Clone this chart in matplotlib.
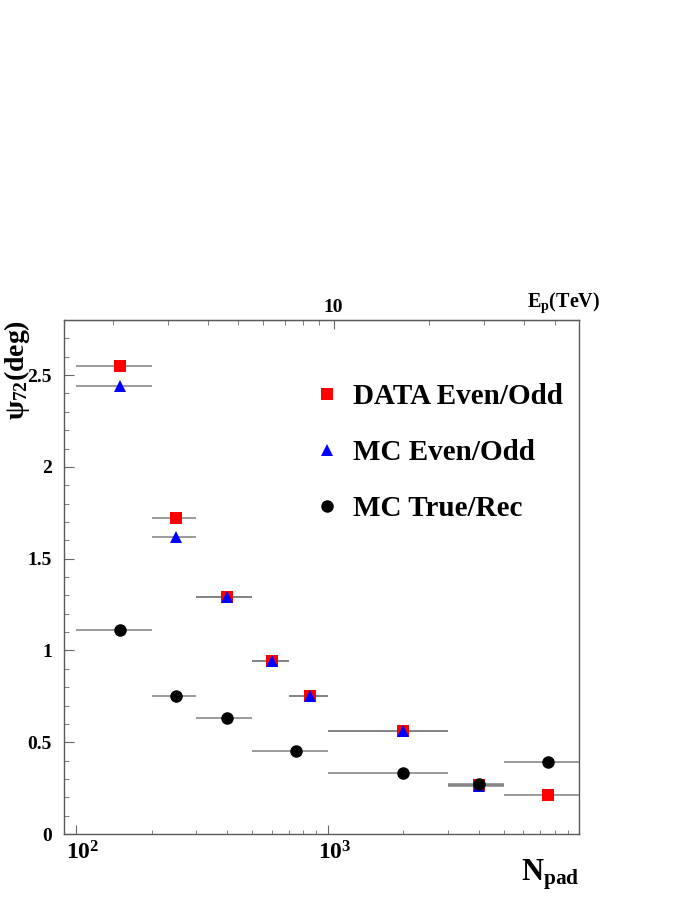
import matplotlib
matplotlib.use('Agg')
import matplotlib.pyplot as plt
import matplotlib.transforms as mtransforms
from matplotlib.lines import Line2D
from matplotlib.ticker import MultipleLocator, LogLocator, FixedLocator, FuncFormatter, NullFormatter
import numpy as np

plt.rcParams['font.family'] = 'Liberation Serif'
plt.rcParams['font.weight'] = 'bold'
plt.rcParams['mathtext.fontset'] = 'custom'
plt.rcParams['mathtext.rm'] = 'Liberation Serif:bold'
plt.rcParams['mathtext.bf'] = 'Liberation Serif:bold'
plt.rcParams['mathtext.it'] = 'Liberation Serif:bold:italic'

# bins in N_pad
bin_lo = [100, 200, 300, 500, 700, 1000, 3000, 5000]
bin_hi = [200, 300, 500, 700, 1000, 3000, 5000, 10000]
x_data = [150, 250, 400, 600, 850, 2000, 4000, 7500]
data_eo = [2.55, 1.72, 1.29, 0.94, 0.75, 0.56, 0.265, 0.21]
mc_eo = [2.44, 1.62, 1.29, 0.94, 0.75, 0.56, 0.26, None]

# MC true/rec uses different binning
true_lo = [100, 200, 300, 500, 1000, 3000, 5000]
true_hi = [200, 300, 500, 1000, 3000, 5000, 10000]
x_true = [150, 250, 400, 750, 2000, 4000, 7500]
mc_true = [1.11, 0.75, 0.63, 0.45, 0.33, 0.27, 0.39]

labels = ['DATA Even/Odd', 'MC Even/Odd', 'MC True/Rec']


def xerrs(xc, lo, hi):
    xc = np.array(xc, float)
    return [xc - np.array(lo), np.array(hi) - xc]


fig = plt.figure(figsize=(6.95, 8.99), dpi=100)
ax = fig.add_axes([0.0925, 0.0723, 0.741, 0.5717])

ax.set_xscale('log')
ax.set_xlim(90, 10000)
ax.set_ylim(0, 2.8)

ecol = '0.5'
ax.errorbar(x_data, data_eo, xerr=xerrs(x_data, bin_lo, bin_hi), fmt='s',
            color='red', ms=9, mew=0, ecolor=ecol, elinewidth=1.1, capsize=0)
m = [i for i, v in enumerate(mc_eo) if v is not None]
ax.errorbar([x_data[i] for i in m], [mc_eo[i] for i in m],
            xerr=xerrs([x_data[i] for i in m], [bin_lo[i] for i in m], [bin_hi[i] for i in m]),
            fmt='^', color='blue', ms=9, mew=0, ecolor=ecol, elinewidth=1.1, capsize=0)
ax.errorbar(x_true, mc_true, xerr=xerrs(x_true, true_lo, true_hi), fmt='o',
            color='black', ms=9, mew=0, ecolor=ecol, elinewidth=1.1, capsize=0)

# axes style
for s in ax.spines.values():
    s.set_color('0.35')
    s.set_linewidth(1.0)

ax.yaxis.set_major_locator(MultipleLocator(0.5))
ax.yaxis.set_minor_locator(MultipleLocator(0.1))
ax.yaxis.set_major_formatter(FuncFormatter(lambda v, p: '%g' % v))
ax.tick_params(axis='y', which='both', direction='in', right=False, color='0.4',
               labelsize=14, pad=9)
ax.tick_params(axis='y', which='major', length=7)
ax.tick_params(axis='y', which='minor', length=3.6)

ax.xaxis.set_major_locator(FixedLocator([100, 1000]))
ax.xaxis.set_minor_locator(LogLocator(base=10, subs=np.arange(2, 10)))
ax.xaxis.set_major_formatter(FuncFormatter(lambda v, p: r'$\mathbf{10^{%d}}$' % round(np.log10(v))))
ax.xaxis.set_minor_formatter(NullFormatter())
ax.tick_params(axis='x', which='both', direction='in', top=False, color='0.4',
               labelsize=17, pad=5)
ax.tick_params(axis='x', which='major', length=6.7)
ax.tick_params(axis='x', which='minor', length=3.2)
# ROOT centres the mantissa on the tick, so shift the labels slightly right
shift = mtransforms.ScaledTranslation(5 / 72, 0, fig.dpi_scale_trans)
for t in ax.xaxis.get_major_ticks():
    t.label1.set_transform(t.label1.get_transform() + shift)


# top axis: proton energy
def n2e(n):
    return 0.03913 * np.power(np.maximum(n, 1e-9), 0.7962)


def e2n(e):
    return np.power(np.maximum(e, 1e-9) / 0.03913, 1 / 0.7962)


top = ax.secondary_xaxis('top', functions=(n2e, e2n))
top.set_xscale('log')
top.xaxis.set_major_locator(FixedLocator([10]))
top.xaxis.set_minor_locator(FixedLocator([2, 3, 4, 5, 6, 7, 8, 9, 20, 30, 40, 50]))
top.xaxis.set_major_formatter(FuncFormatter(lambda v, p: '%d' % v))
top.xaxis.set_minor_formatter(NullFormatter())
top.tick_params(axis='x', which='both', direction='in', color='0.4', labelsize=14, pad=3)
top.tick_params(axis='x', which='major', length=6.7)
top.tick_params(axis='x', which='minor', length=3.6)
top.spines['top'].set_color('0.35')

# labels
fig.text(0.024, 0.644, r'$\mathrm{\psi}_{72}$(deg)', rotation=90, ha='center', va='top',
         fontsize=20)
fig.text(0.8335, 0.0211, r'N$_{\mathbf{pad}}$', ha='right', va='baseline', fontsize=22)
fig.text(0.863, 0.6588, r'E$_{\mathbf{p}}$(TeV)', ha='right', va='baseline', fontsize=14.5)

handles = [
    Line2D([], [], ls='none', marker='s', color='red', ms=9, mew=0),
    Line2D([], [], ls='none', marker='^', color='blue', ms=9, mew=0),
    Line2D([], [], ls='none', marker='o', color='black', ms=9, mew=0),
]
ax.legend(handles, labels, loc='upper left', bbox_to_anchor=(0.482, 0.877), frameon=False,
          fontsize=21, handlelength=1.0, handletextpad=0.405, labelspacing=0.99,
          borderpad=0, borderaxespad=0)

plt.savefig('out.png', dpi=100)
